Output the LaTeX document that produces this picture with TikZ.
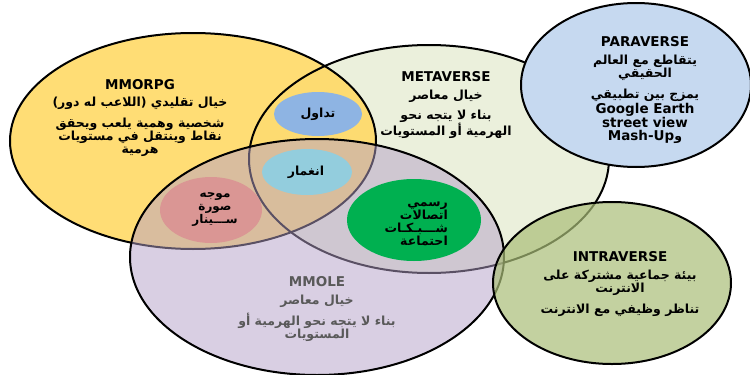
\documentclass[tikz,border=0pt]{standalone}
\usepackage{fontspec}
\setmainfont{DejaVu Sans}
\newfontfamily\arabicfont[Script=Arabic]{DejaVu Sans}
\TeXXeTstate=1
\usetikzlibrary{positioning}
\definecolor{mmorpgcol}{RGB}{255,217,102}
\definecolor{metacol}{RGB}{235,240,220}
\definecolor{paracol}{RGB}{198,217,240}
\definecolor{intracol}{RGB}{170,190,120}
\definecolor{mmolecol}{RGB}{180,160,200}
\definecolor{tradecol}{RGB}{142,180,227}
\definecolor{immersecol}{RGB}{147,205,221}
\definecolor{guidecol}{RGB}{218,150,148}
\definecolor{formalcol}{RGB}{0,176,80}
\definecolor{mmoletext}{RGB}{89,89,89}
\tikzstyle{venn} = [%
					line width = 2,
					draw = black]
\tikzstyle{title} = [%
					font = \bfseries\fontsize{13.5}{15}\selectfont,
					inner sep = 0pt]
\tikzstyle{body} = [%
					font = \arabicfont\bfseries\fontsize{12.5}{13}\selectfont,
					align = center,
					inner sep = 0pt]

\begin{document}
\begin{tikzpicture}[x=1pt, y=-1pt, bubble/.style={fill=#1, draw=none}]
		\useasboundingbox (0,0) rectangle (750,375);
		
		% Coordinates
		\coordinate (G) at (193,141);
		\coordinate (M) at (429,159);
		\coordinate (P) at (636,85);
		\coordinate (I) at (612,283);
		\coordinate (L) at (317,257);
		
		% Circles
		\fill[metacol] (M) ellipse [x radius=180, y radius=114];
		\fill[mmorpgcol, fill opacity=.9] (G) ellipse [x radius=183, y radius=108];
		\draw[venn] (M) ellipse [x radius=180, y radius=114];
		\draw[venn] (G) ellipse [x radius=183, y radius=108];
		\draw[venn, fill=mmolecol, fill opacity=.5] (L) ellipse [x radius=187, y radius=118];
		\draw[venn, fill=intracol, fill opacity=.7] (I) ellipse [x radius=119, y radius=81];
		\draw[venn, fill=paracol] (P) ellipse [x radius=115, y radius=82];
		
		% Inner ellipses
		\fill[bubble=tradecol] (318,114) ellipse [x radius=44, y radius=22];
		\fill[bubble=immersecol] (307,172) ellipse [x radius=45, y radius=23];
		\fill[bubble=guidecol] (211,210) ellipse [x radius=51, y radius=33];
		\fill[bubble=formalcol] (414,220) ellipse [x radius=67, y radius=41];
		
		% Titles
		\node[title] (mmorpg) at (140,85) {MMORPG};
		\node[title] (metaverse) at (446,77) {METAVERSE};
		\node[title] (paraverse) at (645,42) {PARAVERSE};
		\node[title] (intraverse) at (620,257) {INTRAVERSE};
		\node[title, text=mmoletext] (mmole) at (317,282) {MMOLE};
		
		% Texts
		\node[body, below=6pt of mmorpg] (mmorpgtext) {%
			\beginR خيال تقليدي  (اللاعب له دور)\endR\\[8pt]
			\beginR شخصية وهمية يلعب ويحقق\endR\\
			\beginR نقاط وينتقل في  مستويات\endR\\
			\beginR هرمية\endR};
		\node[body, below=7pt of metaverse] (metatext) {%
			\beginR خيال معاصر\endR\\[7pt]
			\beginR بناء لا يتجه نحو\endR\\
			\beginR الهرمية أو المستويات\endR};
		\node[body, below=7pt of paraverse] (paratext) {%
			\beginR يتقاطع مع العالم\endR\\
			\beginR الحقيقي\endR\\[8pt]
			\beginR يمزج بين تطبيقي\endR\\[1pt]
			{\rmfamily\fontsize{13.5}{14.5}\selectfont Google Earth}\\
			{\rmfamily\fontsize{13.5}{14.5}\selectfont street view}\\
			\beginR و\beginL{\rmfamily\fontsize{13.5}{14.5}\selectfont Mash-Up}\endL\endR};
		\node[body, below=7pt of intraverse] (intratext) {%
			\beginR بيئة جماعية مشتركة على\endR\\
			\beginR الانترنت\endR\\[8pt]
			\beginR تناظر وظيفي مع الانترنت\endR};
		\node[body, text=mmoletext, below=7pt of mmole] (mmoletext) {%
			\beginR خيال معاصر\endR\\[5pt]
			\beginR بناء لا يتجه نحو الهرمية أو\endR\\
			\beginR المستويات\endR};
		
		% Bubble texts
		\node[body] (trade) at (318,114) {\beginR تداول\endR};
		\node[body] (immerse) at (306,172) {\beginR انغمار\endR};
		\node[body, font=\arabicfont\bfseries\fontsize{12}{13}\selectfont] (guide) at (215,210) {%
			\beginR موجه\endR\\
			\beginR صورة\endR\\
			\beginR ســـينار\endR};
		\node[body, align=right, anchor=east] (formal) at (448,224) {%
			\beginR رسمي\endR\\
			\beginR اتصالات\endR\\
			\beginR شـــبـكـات\endR\\
			\beginR احتماعة\endR};
	\end{tikzpicture}
\end{document}
